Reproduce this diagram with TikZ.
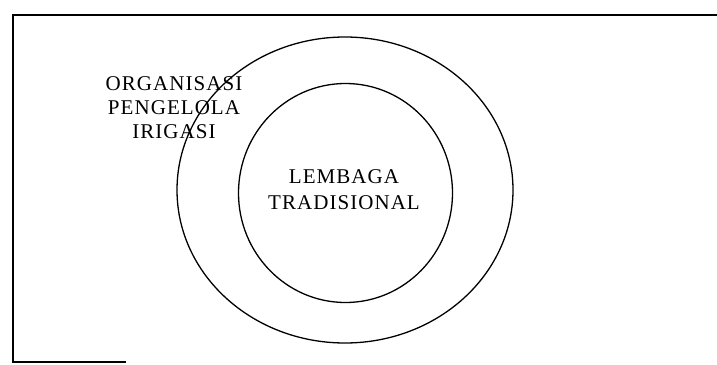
\documentclass[tikz,border=0pt]{standalone}
\usepackage{fontspec}
\setmainfont[LetterSpace=5]{Liberation Serif}
\usetikzlibrary{shapes.geometric}
\begin{document}
\begin{tikzpicture}[x=1pt,y=-1pt,line width=1.3pt,
  ring/.style={draw,ellipse,inner sep=0pt,line width=1.3pt},
  lbl/.style={align=center,inner sep=0pt,font=\fontsize{21}{24}\selectfont}]
\useasboundingbox (0,0) rectangle (717,364);
\coordinate (tr) at (717,15);
\coordinate (tl) at (13,15);
\coordinate (bl) at (13,362);
\coordinate (br) at (126,362);
\draw (tr) -- (tl) -- (bl) -- (br);
\node[ring,minimum width=336pt,minimum height=306pt] (outer) at (345,190) {};
\node[ring,minimum width=214pt,minimum height=219pt] (inner) at (345.5,193) {};
\node[lbl] (org) at (174,108) {ORGANISASI\\PENGELOLA\\IRIGASI};
\node[lbl,font=\fontsize{21}{26}\selectfont] (lem) at (344,190) {LEMBAGA\\TRADISIONAL};
\end{tikzpicture}
\end{document}
